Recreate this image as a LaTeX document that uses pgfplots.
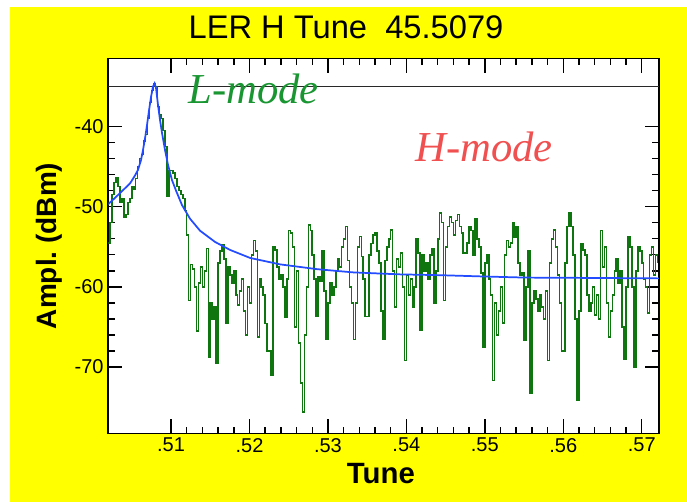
\documentclass[border=0pt]{standalone}
\usepackage{fontspec}
\setmainfont{Liberation Sans}
\newfontfamily\serifit{Liberation Serif}
\usepackage{pgfplots}
\usepackage{pgfplotstable}
\pgfplotsset{compat=1.18}
\definecolor{bgyellow}{RGB}{255,255,0}
\definecolor{tracegreen}{RGB}{15,118,15}
\definecolor{fitblue}{RGB}{35,75,255}
\definecolor{lgreen}{RGB}{25,150,50}
\definecolor{hred}{RGB}{240,80,80}
\definecolor{refline}{RGB}{40,40,40}

\pgfplotstableread{
x y
0.50200 -54.5
0.50225 -52.0
0.50250 -48.5
0.50275 -47.0
0.50300 -46.4
0.50325 -47.5
0.50350 -49.5
0.50375 -49.0
0.50400 -51.3
0.50425 -51.0
0.50450 -49.5
0.50475 -49.0
0.50500 -47.5
0.50525 -47.8
0.50550 -46.5
0.50575 -45.0
0.50600 -44.0
0.50625 -43.5
0.50650 -41.8
0.50675 -41.0
0.50700 -39.0
0.50725 -37.0
0.50750 -35.5
0.50775 -34.6
0.50800 -35.0
0.50825 -37.5
0.50850 -38.5
0.50875 -39.0
0.50900 -40.5
0.50925 -42.5
0.50950 -48.7
0.50975 -45.5
0.51000 -45.5
0.51025 -45.8
0.51050 -46.5
0.51075 -47.5
0.51100 -48.0
0.51125 -48.5
0.51150 -49.0
0.51175 -50.5
0.51200 -53.5
0.51225 -61.7
0.51250 -57.2
0.51275 -57.8
0.51300 -60.0
0.51325 -65.5
0.51350 -59.5
0.51375 -57.5
0.51400 -60.0
0.51425 -58.0
0.51450 -55.2
0.51475 -68.8
0.51500 -62.0
0.51525 -64.0
0.51550 -62.5
0.51575 -69.6
0.51600 -57.0
0.51625 -55.5
0.51650 -54.8
0.51675 -56.5
0.51700 -64.5
0.51725 -57.5
0.51750 -58.5
0.51775 -59.5
0.51800 -58.0
0.51825 -61.0
0.51850 -62.3
0.51875 -60.5
0.51900 -59.0
0.51925 -63.0
0.51950 -66.0
0.51975 -60.0
0.52000 -62.0
0.52025 -56.0
0.52050 -54.2
0.52075 -55.5
0.52100 -66.3
0.52125 -59.0
0.52150 -60.0
0.52175 -61.0
0.52200 -64.6
0.52225 -68.0
0.52250 -68.0
0.52275 -71.0
0.52300 -55.0
0.52325 -55.4
0.52350 -57.5
0.52375 -59.0
0.52400 -58.5
0.52425 -60.0
0.52450 -63.8
0.52475 -59.0
0.52500 -53.0
0.52525 -53.3
0.52550 -55.0
0.52575 -65.0
0.52600 -58.0
0.52625 -67.0
0.52650 -72.0
0.52675 -75.6
0.52700 -66.0
0.52725 -60.0
0.52750 -52.3
0.52775 -53.0
0.52800 -56.0
0.52825 -59.0
0.52850 -63.7
0.52875 -58.7
0.52900 -59.3
0.52925 -55.5
0.52950 -60.5
0.52975 -66.5
0.53000 -62.0
0.53025 -59.5
0.53050 -61.0
0.53075 -60.0
0.53100 -58.0
0.53125 -56.5
0.53150 -57.5
0.53175 -55.0
0.53200 -54.0
0.53225 -52.5
0.53250 -56.7
0.53275 -60.0
0.53300 -62.0
0.53325 -66.6
0.53350 -62.0
0.53375 -55.0
0.53400 -53.7
0.53425 -56.2
0.53450 -59.0
0.53475 -63.7
0.53500 -63.7
0.53525 -56.0
0.53550 -54.6
0.53575 -53.5
0.53600 -53.3
0.53625 -55.5
0.53650 -57.0
0.53675 -63.0
0.53700 -66.6
0.53725 -56.7
0.53750 -55.0
0.53775 -54.0
0.53800 -52.9
0.53825 -58.0
0.53850 -62.5
0.53875 -56.5
0.53900 -57.5
0.53925 -55.8
0.53950 -60.0
0.53975 -69.2
0.54000 -58.5
0.54025 -61.0
0.54050 -59.0
0.54075 -62.5
0.54100 -60.0
0.54125 -54.0
0.54150 -55.8
0.54175 -65.4
0.54200 -56.0
0.54225 -58.0
0.54250 -57.0
0.54275 -59.0
0.54300 -56.0
0.54325 -55.2
0.54350 -62.0
0.54375 -58.0
0.54400 -54.0
0.54425 -50.8
0.54450 -52.0
0.54475 -61.7
0.54500 -55.0
0.54525 -52.5
0.54550 -51.3
0.54575 -52.0
0.54600 -53.5
0.54625 -51.7
0.54650 -51.0
0.54675 -52.5
0.54700 -53.3
0.54725 -55.8
0.54750 -55.8
0.54775 -54.5
0.54800 -52.5
0.54825 -53.0
0.54850 -56.0
0.54875 -51.5
0.54900 -54.0
0.54925 -55.0
0.54950 -58.3
0.54975 -67.5
0.55000 -57.0
0.55025 -56.0
0.55050 -59.0
0.55075 -61.0
0.55100 -71.7
0.55125 -62.0
0.55150 -66.0
0.55175 -63.0
0.55200 -60.0
0.55225 -64.5
0.55250 -56.0
0.55275 -54.2
0.55300 -55.0
0.55325 -54.5
0.55350 -52.0
0.55375 -53.8
0.55400 -52.5
0.55425 -57.0
0.55450 -58.5
0.55475 -58.3
0.55500 -66.7
0.55525 -60.0
0.55550 -55.5
0.55575 -73.3
0.55600 -62.0
0.55625 -60.5
0.55650 -61.5
0.55675 -63.0
0.55700 -61.0
0.55725 -62.5
0.55750 -64.0
0.55775 -60.5
0.55800 -69.2
0.55825 -57.0
0.55850 -54.0
0.55875 -52.9
0.55900 -55.0
0.55925 -58.5
0.55950 -62.0
0.55975 -68.0
0.56000 -68.0
0.56025 -57.0
0.56050 -52.5
0.56075 -50.8
0.56100 -52.5
0.56125 -56.0
0.56150 -64.0
0.56175 -74.2
0.56200 -63.0
0.56225 -54.6
0.56250 -55.4
0.56275 -56.0
0.56300 -61.0
0.56325 -63.0
0.56350 -62.0
0.56375 -60.0
0.56400 -63.5
0.56425 -61.0
0.56450 -64.0
0.56475 -53.0
0.56500 -57.5
0.56525 -55.0
0.56550 -62.0
0.56575 -66.3
0.56600 -63.0
0.56625 -61.0
0.56650 -58.0
0.56675 -56.5
0.56700 -59.5
0.56725 -58.0
0.56750 -65.0
0.56775 -69.0
0.56800 -60.0
0.56825 -53.8
0.56850 -55.0
0.56875 -60.0
0.56900 -70.0
0.56925 -58.0
0.56950 -55.0
0.56975 -55.5
0.57000 -57.0
0.57025 -59.0
0.57050 -60.0
0.57075 -63.3
0.57100 -56.0
0.57125 -55.0
0.57150 -58.5
0.57175 -56.0
0.57200 -57.0
}\greentrace

\pgfplotstableread{
x y
0.50196 -49.7
0.50286 -48.9
0.50349 -48.3
0.50413 -47.7
0.50477 -47.1
0.50541 -46.1
0.50579 -45.4
0.50617 -44.2
0.50643 -42.9
0.50668 -41.5
0.50694 -39.8
0.50719 -38.0
0.50745 -36.3
0.50770 -35.0
0.50790 -34.6
0.50809 -35.2
0.50834 -37.3
0.50860 -39.2
0.50885 -40.8
0.50923 -42.9
0.50962 -44.8
0.51013 -46.7
0.51064 -48.0
0.51140 -49.8
0.51242 -51.5
0.51370 -53.0
0.51561 -54.4
0.51753 -55.4
0.52008 -56.4
0.52390 -57.2
0.52862 -57.8
0.53321 -58.2
0.53921 -58.45
0.54431 -58.55
0.54941 -58.7
0.55515 -58.85
0.56472 -58.9
0.57224 -58.95
}\bluefit

\begin{document}
\begin{tikzpicture}
\path[use as bounding box, fill=white] (-81.2pt,-51.5pt) rectangle (434pt,325pt);
\fill[bgyellow] (-73.7pt,-51.5pt) rectangle (434pt,319.7pt);
\begin{axis}[
  at={(0,0)}, anchor=south west,
  scale only axis, width=413pt, height=281.1pt,
  xmin=0.5020, xmax=0.5722, ymin=-78.3, ymax=-31.5,
  axis background/.style={fill=white},
  axis line style={black, line width=1.3pt},
  tick style={black, line width=1.1pt},
  tick align=inside,
  major tick length=10.5pt, minor tick length=4.9pt,
  xtick={0.51,0.52,0.53,0.54,0.55,0.56,0.57},
  xticklabels={.51,.52,.53,.54,.55,.56,.57},
  ytick={-70,-60,-50,-40},
  yticklabels={-70,-60,-50,-40},
  minor x tick num=4, minor y tick num=4,
  ticklabel style={font=\fontsize{15}{18}\selectfont},
  title={LER H Tune\ \ 45.5079},
  title style={at={(axis description cs:0.4317,1.0626)}, anchor=center, inner sep=0pt, font=\fontsize{24.5}{28}\selectfont},
  xlabel={Tune},
  xlabel style={at={(axis description cs:0.495,-0.1085)}, anchor=center, inner sep=0pt, font=\bfseries\fontsize{22}{26}\selectfont},
  ylabel={Ampl.\ (dBm)},
  ylabel style={at={(axis description cs:-0.1077,0.5)}, anchor=center, inner sep=0pt, font=\bfseries\fontsize{21}{25}\selectfont},
  clip=true,
]
\addplot[refline, line width=1.2pt] coordinates {(0.5020,-35) (0.5722,-35)};
\addplot[tracegreen, line width=1.15pt, const plot] table[x=x,y=y] {\greentrace};
\addplot[fitblue, line width=1.3pt] table[x=x,y=y] {\bluefit};
\node[anchor=base west, inner sep=0pt, text=lgreen, font=\serifit\itshape\fontsize{32}{36}\selectfont] at (axis cs:0.51217,-37.08) {L-mode};
\node[anchor=base west, inner sep=0pt, text=hred, font=\serifit\itshape\fontsize{32}{36}\selectfont] at (axis cs:0.54112,-44.3) {H-mode};
\end{axis}
\end{tikzpicture}
\end{document}
